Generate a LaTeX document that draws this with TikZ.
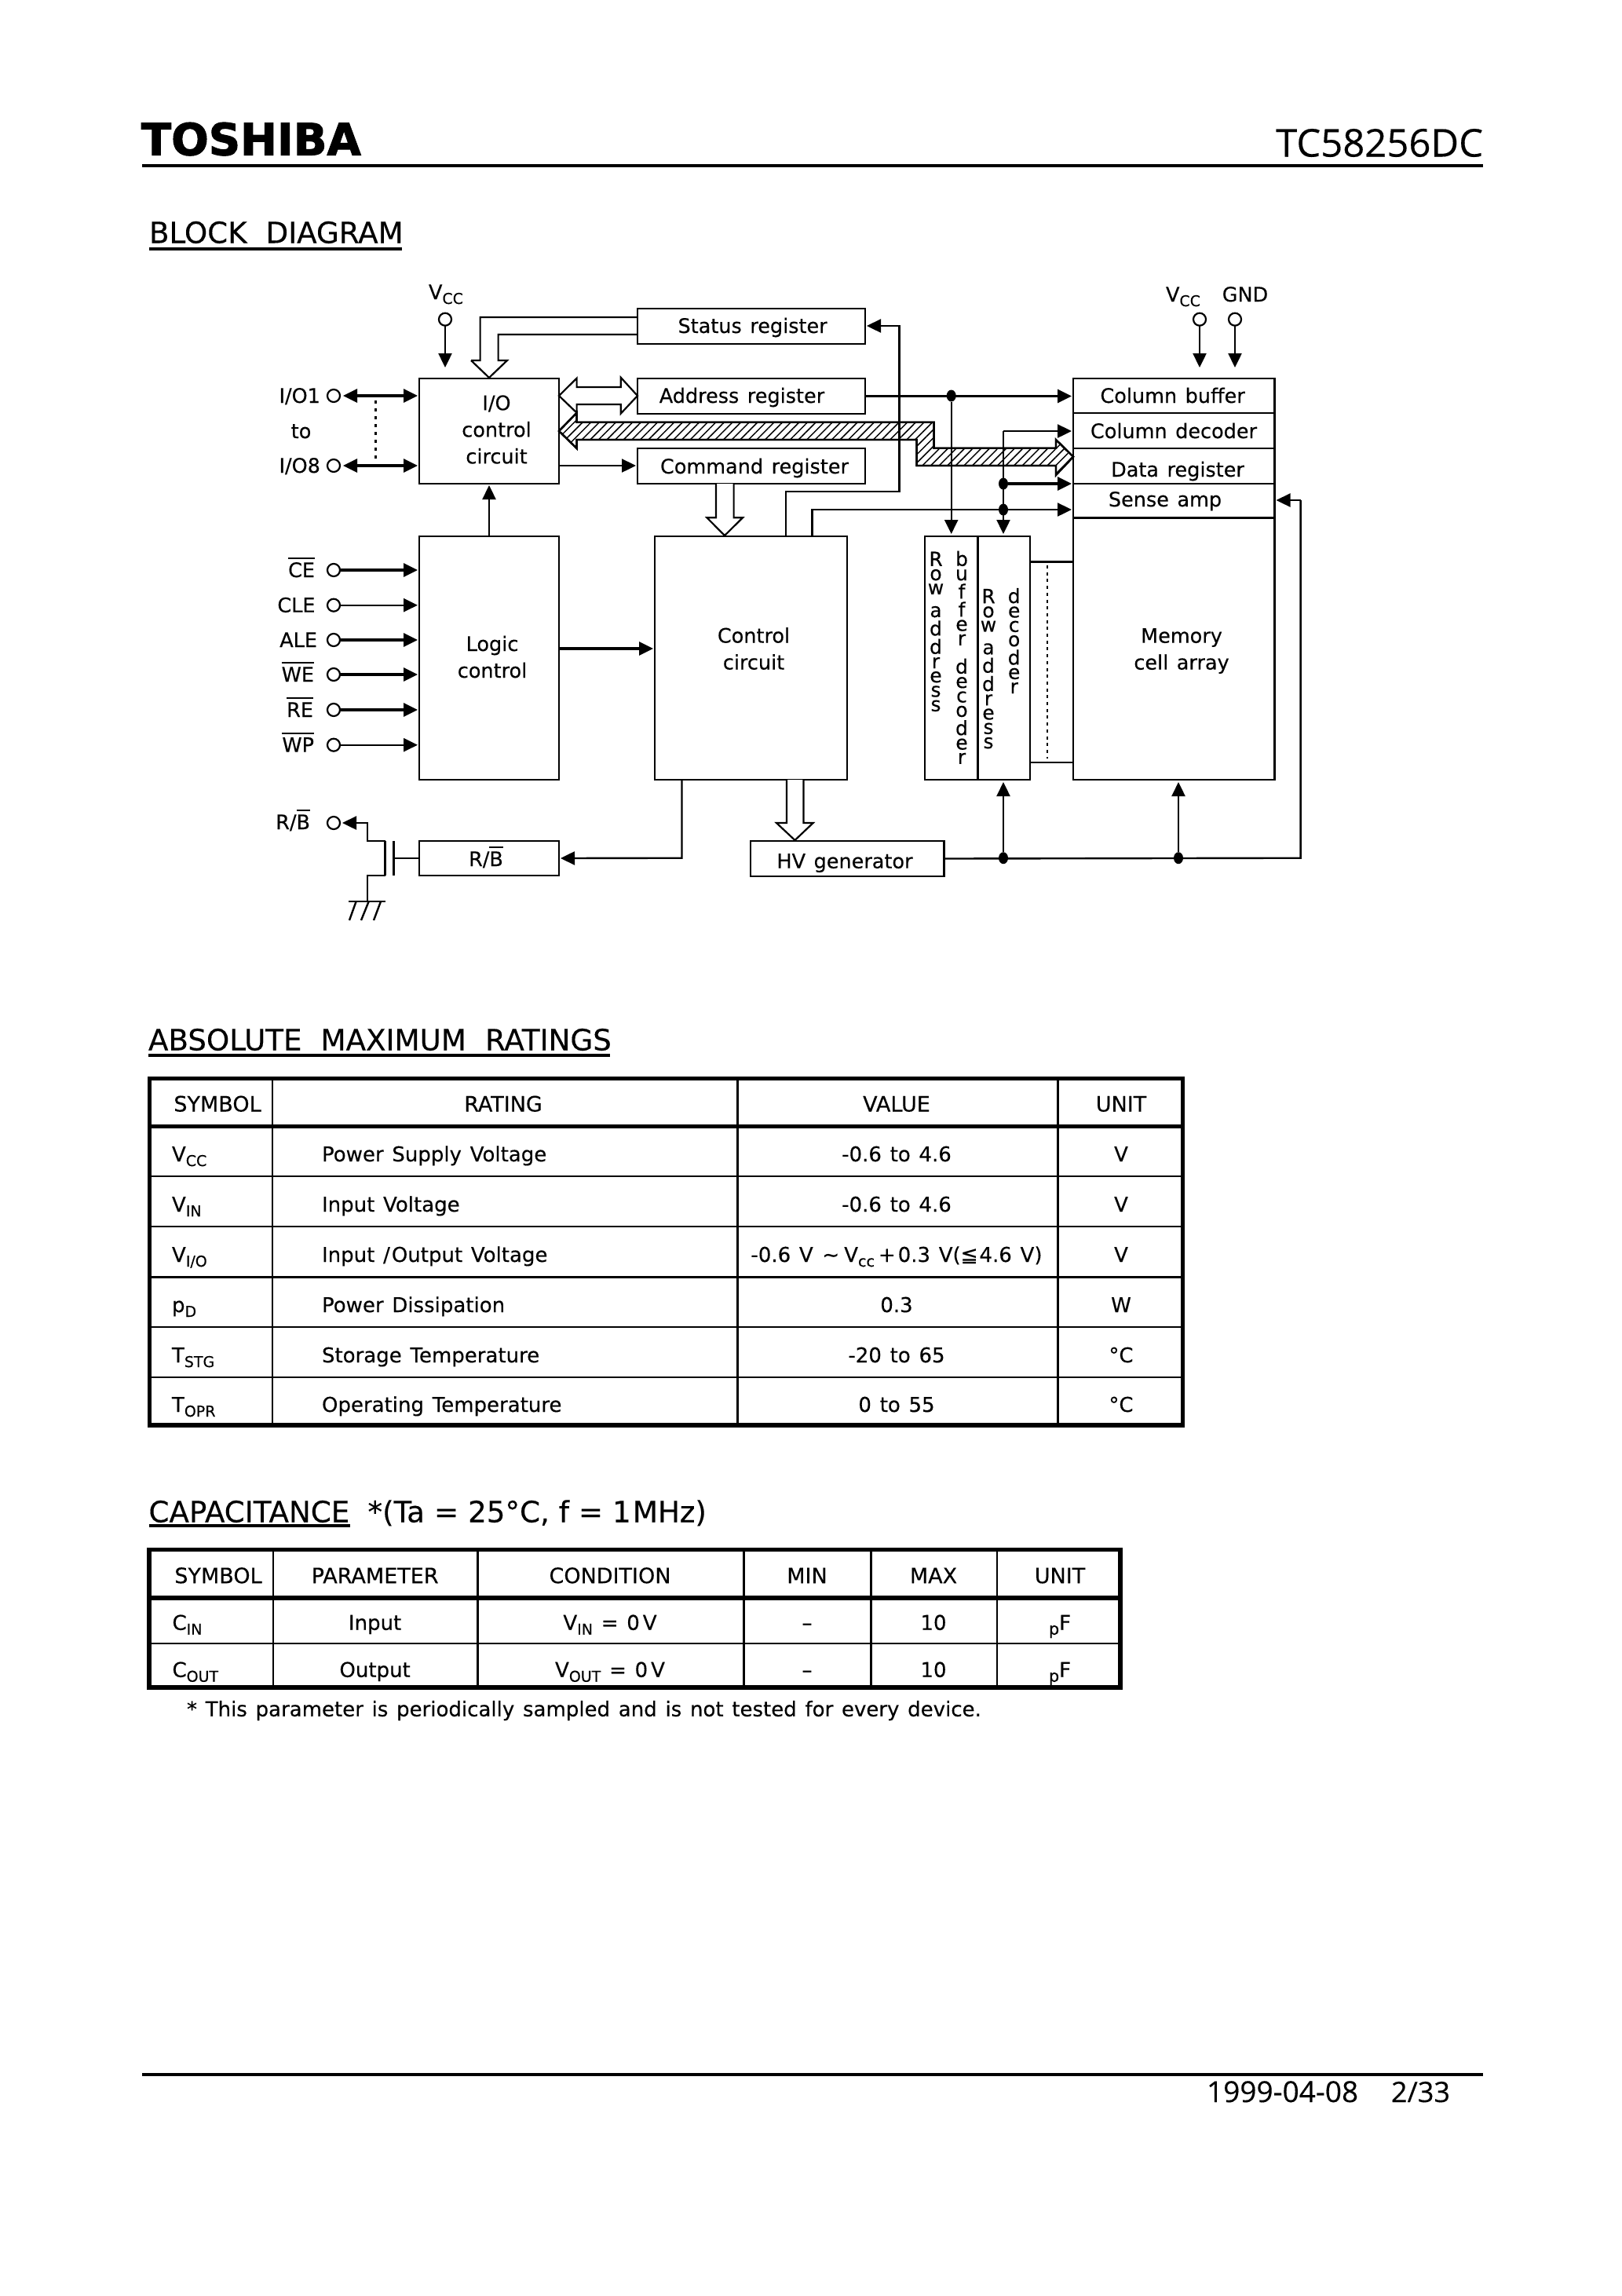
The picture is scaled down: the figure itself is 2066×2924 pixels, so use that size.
\documentclass[tikz,border=0pt]{standalone}
\usepackage{fontspec}
\setmainfont[WordSpace=1.3,FakeBold=0.25]{DejaVu Sans}
\newfontfamily\osans[WordSpace=1.7,FakeBold=0.25]{Open Sans}
\newfontfamily\brandfont[FakeBold=2]{DejaVu Sans Bold}
\usetikzlibrary{arrows.meta,patterns.meta,calc,shapes.geometric}
\newcommand\sbs[1]{\raisebox{-6pt}{\fontsize{19}{19}\selectfont #1}}
\newcommand\ovl[1]{\setbox0=\hbox{#1}\rlap{\rule[23pt]{\wd0}{1.6pt}}\box0}
\newcommand\fs[1]{\fontsize{#1}{#1}\selectfont}
\newcommand\q{\\[1pt]}
\newcommand\hgap{\kern24pt }
\newcommand\cgap{\kern12pt }
\tikzset{
  x=1pt,y=-1pt,
  every node/.style={inner sep=0pt,outer sep=0pt},
  >={Triangle[length=18pt,width=17pt]},
  bx/.style={draw,line width=2.8pt},
  wire/.style={draw,line width=2.4pt},
  twire/.style={draw,line width=3.2pt},
  hollow/.style={draw,line width=2.2pt,fill=white,line join=miter},
  pinc/.style={circle,draw,line width=2.2pt,minimum size=16pt},
  jdot/.style={ellipse,fill=black,minimum width=12pt,minimum height=15pt},
  txt/.style={font=\fs{25.5},text height=18pt,text depth=0pt},
  ttxt/.style={font=\fs{26},text height=18pt,text depth=0pt},
  thd/.style={font=\fs{27},text height=19pt,text depth=0pt},
  mtxt/.style={font=\fontsize{25.5}{34}\selectfont,align=center},
  stk/.style={font=\fs{25},anchor=north},
  head/.style={font=\fs{37.2},text height=27pt,text depth=0pt,anchor=west},
  rule/.style={draw,line width=3.4pt},
  outer/.style={draw,line width=5.4pt},
  thick/.style={draw,line width=2.8pt},
  thin/.style={draw,line width=2.2pt},
}
% box from corner to corner
\newcommand\bxn[5]{\node[bx,minimum width=#4pt-#2pt,minimum height=#5pt-#3pt] (#1) at ({(#2+#4)/2},{(#3+#5)/2}) {};}
\newcommand\trow[6]{%
  \node[ttxt,anchor=west] (#1s) at (219,#2) {#3};
  \node[ttxt,anchor=west] (#1r) at (410,#2) {#4};
  \node[ttxt] (#1v) at (1142,#2) {#5};
  \node[ttxt] (#1u) at (1428,#2) {#6};}
\newcommand\crow[7]{%
  \node[ttxt,anchor=west] (#1s) at (219.5,#2) {#3};
  \node[ttxt] (#1p) at (477.6,#2) {#4};
  \node[ttxt] (#1c) at (777,#2) {#5};
  \node[ttxt] (#1n) at (1028,#2) {#6};
  \node[ttxt] (#1x) at (1189,#2) {#7};
  \node[ttxt] (#1u) at (1350,#2) {\sbs{\fs{21}p}F};}
\begin{document}
\begin{tikzpicture}
\useasboundingbox (0,0) rectangle (2066,2924);
\fill[white] (0,0) rectangle (2066,2924);

% page header
\node[font=\brandfont\fs{56},text height=41pt,text depth=0pt,anchor=west] (brand) at (180,177) {TOSHIBA};
\node[font=\osans\fs{49},text height=35pt,text depth=0pt,anchor=east] (part) at (1889,182) {TC58256DC};
\coordinate (hl) at (181,211); \coordinate (hr) at (1889,211);
\draw[rule] (hl) -- (hr);

\node[head] (hblock) at (190,296) {BLOCK\hgap DIAGRAM};
\draw[rule] (hblock.west |- 0,317) -- (512,317);

% hatched data bus
\draw[line width=2.4pt,fill=white] (712,549) -- (734.6,525.7) -- (734.6,537.7) -- (1189.6,537.7) -- (1189.6,570.7) -- (1345,570.7) -- (1345,560) -- (1367,581.7) -- (1345,605) -- (1345,593) -- (1167.6,593) -- (1167.6,560) -- (734.6,560) -- (734.6,571) -- cycle;
\draw[line width=2.4pt,pattern={Lines[angle=45,distance=7.5pt,line width=1.5pt]}] (712,549) -- (734.6,525.7) -- (734.6,537.7) -- (1189.6,537.7) -- (1189.6,570.7) -- (1345,570.7) -- (1345,560) -- (1367,581.7) -- (1345,605) -- (1345,593) -- (1167.6,593) -- (1167.6,560) -- (734.6,560) -- (734.6,571) -- cycle;

% boxes
\bxn{status}{812}{393}{1102}{438}
\bxn{addr}{812}{482}{1102}{527}
\bxn{cmd}{812}{571}{1102}{616}
\bxn{io}{534}{482}{712}{616}
\bxn{logic}{534}{683}{712}{993}
\bxn{ctrl}{834}{683}{1079}{993}
\bxn{rowbuf}{1178}{683}{1245.7}{993}
\bxn{rowdec}{1245.7}{683}{1312}{993}
\bxn{cbuf}{1367}{482}{1623.5}{526}
\bxn{cdec}{1367}{526}{1623.5}{571}
\bxn{dreg}{1367}{571}{1623.5}{616}
\bxn{samp}{1367}{616}{1623.5}{659.5}
\bxn{mem}{1367}{659.5}{1623.5}{993}
\bxn{rb}{534}{1071}{712}{1115}
\bxn{hv}{956}{1071}{1202.5}{1116}
\draw[line width=3pt] (rowdec.east |- 0,715.5) -- (mem.west |- 0,715.5);
\draw[line width=1.6pt] (rowdec.east |- 0,970.7) -- (mem.west |- 0,970.7);
\draw[line width=2.6pt,dash pattern=on 4pt off 4.7pt] (1334,720) -- (1334,966);

% box text
\node[txt] (tstatus) at (958.6,415) {Status register};
\node[txt] (taddr) at (945,504) {Address register};
\node[txt] (tcmd) at (961,594) {Command register};
\node[mtxt] (tio) at (632.5,547) {I/O\\control\\circuit};
\node[mtxt] (tlogic) at (627,836.5) {Logic\\control};
\node[mtxt] (tctrl) at (960,826) {Control\\circuit};
\node[mtxt] (tmem) at (1505,829) {Memory\\cell array};
\node[txt] (tcbuf) at (1493.6,504) {Column buffer};
\node[txt] (tcdec) at (1495,549) {Column decoder};
\node[txt] (tdreg) at (1500,598) {Data register};
\node[txt] (tsamp) at (1484,636) {Sense amp};
\node[txt] (trb) at (619,1094) {R/\ovl{B}};
\node[txt] (thv) at (1076,1096.7) {HV generator};
\node[stk] (s1) at (1192,702.7) {\shortstack{R\q o\q w\\[12pt]a\q d\q d\q r\q e\q s\q s}};
\node[stk] (s2) at (1225,701.7) {\shortstack{b\q u\q f\q f\q e\q r\\[14pt]d\q e\q c\q o\q d\q e\q r}};
\node[stk] (s3) at (1259,750) {\shortstack{R\q o\q w\\[12pt]a\q d\q d\q r\q e\q s\q s}};
\node[stk] (s4) at (1291.7,749) {\shortstack{d\q e\q c\q o\q d\q e\q r}};

% pins and their labels
\node[pinc] (pvcc) at (567,406.7) {};
\node[pinc] (pvcc2) at (1528,406.7) {};
\node[pinc] (pgnd) at (1573,406.7) {};
\node[pinc] (pio1) at (425,504) {};
\node[pinc] (pio8) at (425,593) {};
\node[pinc] (pce) at (425,726) {};
\node[pinc] (pcle) at (425,770.7) {};
\node[pinc] (pale) at (425,815) {};
\node[pinc] (pwe) at (425,859) {};
\node[pinc] (pre) at (425,904) {};
\node[pinc] (pwp) at (425,948.7) {};
\node[pinc] (prb) at (425,1048) {};
\node[txt] (lvcc) at (568,372) {V\sbs{CC}};
\node[txt] (lvcc2) at (1507,375) {V\sbs{CC}};
\node[txt] (lgnd) at (1586,375) {GND};
\node[txt,anchor=west] (lio1) at (355.5,504) {I/O1};
\node[txt] (lto) at (383.6,549) {to};
\node[txt,anchor=west] (lio8) at (355.5,593) {I/O8};
\node[txt,anchor=east] (lce) at (401,726) {\ovl{CE}};
\node[txt,anchor=east] (lcle) at (401.5,770.7) {CLE};
\node[txt,anchor=east] (lale) at (404,815) {ALE};
\node[txt,anchor=east] (lwe) at (400,859) {\ovl{WE}};
\node[txt,anchor=east] (lre) at (399,904) {\ovl{RE}};
\node[txt,anchor=east] (lwp) at (400,948.7) {\ovl{WP}};
\node[txt,anchor=east] (lrb) at (395,1047) {R/\ovl{B}};

% junctions
\node[jdot] (j1) at (1211.7,504) {};
\node[jdot] (j2) at (1278,616) {};
\node[jdot] (j3) at (1278,649) {};
\node[jdot] (j4) at (1278,1092.7) {};
\node[jdot] (j5) at (1501,1092.7) {};
\coordinate (jc) at (1278,549);
\coordinate (rt) at (1656.6,637);
\coordinate (rb2) at (1656.6,1092.7);
\coordinate (st) at (1145.5,415);
\coordinate (sb) at (1145.5,626);
\coordinate (c1) at (1001,626);
\coordinate (c2) at (1034.5,649);
\coordinate (rc) at (868.5,1092.7);

% connectors
\draw[wire,->,shorten >=14pt] (pvcc) -- (pvcc |- io.north);
\draw[wire,->,shorten >=14pt] (pvcc2) -- (pvcc2 |- cbuf.north);
\draw[wire,->,shorten >=14pt] (pgnd) -- (pgnd |- cbuf.north);
\draw[twire,<->,shorten <=4pt,shorten >=2pt] (pio1) -- (pio1 -| io.west);
\draw[twire,<->,shorten <=4pt,shorten >=2pt] (pio8) -- (pio8 -| io.west);
\draw[line width=2.6pt,dash pattern=on 4pt off 6pt] (478.5,510) -- (478.5,587);
\draw[wire,->,shorten >=2pt] (io.east |- 0,593) -- (cmd.west |- 0,593);
\draw[wire,->,shorten >=2pt] (logic.north -| 623,0) -- (623,616);
\draw[twire,->,shorten >=2pt] (pce) -- (pce -| logic.west);
\draw[wire,->,shorten >=2pt] (pcle) -- (pcle -| logic.west);
\draw[twire,->,shorten >=2pt] (pale) -- (pale -| logic.west);
\draw[twire,->,shorten >=2pt] (pwe) -- (pwe -| logic.west);
\draw[twire,->,shorten >=2pt] (pre) -- (pre -| logic.west);
\draw[wire,->,shorten >=2pt] (pwp) -- (pwp -| logic.west);
\draw[twire,->,shorten >=2pt] (logic.east |- 0,826) -- (ctrl.west |- 0,826);
% control -> status register
\draw[wire,->,shorten >=2pt] (c1 |- ctrl.north) -- (c1) -- (sb) -- (st) -- (st -| status.east);
% control -> sense amp
\draw[wire,->,shorten >=2pt] (c2 |- ctrl.north) -- (c2) -- (c2 -| mem.west);
% address -> column buffer
\draw[twire,->,shorten >=2pt] (addr.east) -- (addr.east -| cbuf.west);
\draw[wire,->,shorten >=3pt] (j1) -- (j1 |- rowbuf.north);
% column and row decoder tap
\draw[wire,->,shorten >=2pt] (jc) -- (jc -| cdec.west);
\draw[wire,->,shorten >=3pt] (jc) -- (jc |- rowdec.north);
\draw[twire,->,shorten >=2pt] (j2) -- (j2 -| dreg.west);
% HV generator
\draw[wire] (hv.east) -- (rb2) -- (rt);
\draw[wire,->,shorten >=2pt] (rt) -- (rt -| samp.east);
\draw[wire,->,shorten >=3pt] (j4) -- (j4 |- rowdec.south);
\draw[wire,->,shorten >=3pt] (j5) -- (j5 |- mem.south);
% control -> R/B
\draw[wire,->,shorten >=2pt] (rc |- ctrl.south) -- (rc) -- (rb.east);
% R/B transistor and ground
\coordinate (ga) at (501,1071); \coordinate (gb) at (501,1115);
\coordinate (ca) at (490.7,1071); \coordinate (cb) at (490.7,1115);
\coordinate (gnd) at (467.8,1148);
\draw[wire] (rb.west) -- (rb.west -| ga);
\draw[line width=3pt] (ga) -- (gb);
\draw[line width=3pt] (ca) -- (cb);
\draw[wire,->,shorten >=3pt] (ca) -- (467.8,1071) -- (467.8,1048) -- (prb);
\draw[wire] (cb) -- (467.8,1115) -- (gnd);
\draw[wire] (444,1148) -- (490.7,1148);
\draw[wire] (453.6,1148) -- (445,1172) (469.7,1148) -- (460,1172) (485,1148) -- (476,1172);

% hollow double-line arrows
\draw[hollow] (600,459) -- (623,481) -- (646,459) -- (634.6,459) -- (634.6,426) -- (status.west |- 0,426) (status.west |- 0,404) -- (611.6,404) -- (611.6,459) -- (600,459);
\draw[hollow] (912,616) -- (912,659.3) -- (900.4,659.3) -- (923,682) -- (946,659.3) -- (934.6,659.3) -- (934.6,616);
\draw[hollow] (1002,993) -- (1002,1048) -- (989,1048) -- (1012.5,1070) -- (1035.7,1048) -- (1023.5,1048) -- (1023.5,993);
\draw[hollow] (712,504) -- (734.6,481.7) -- (734.6,493) -- (790.7,493) -- (790.7,480.7) -- (812,504) -- (790.7,526.7) -- (790.7,515) -- (734.6,515) -- (734.6,525.7) -- cycle;

% ABSOLUTE MAXIMUM RATINGS
\node[head] (habs) at (189,1324) {ABSOLUTE\hgap MAXIMUM\hgap RATINGS};
\draw[rule] (189,1344) -- (777,1344);
\draw[outer] (190.5,1373.7) rectangle (1506.5,1815);
\draw[outer] (190.5,1434.7) -- (1506.5,1434.7);
\draw[thin] (190.5,1498) -- (1506.5,1498);
\draw[thin] (190.5,1562) -- (1506.5,1562);
\draw[thick] (190.5,1626.7) -- (1506.5,1626.7);
\draw[thick] (190.5,1690) -- (1506.5,1690);
\draw[thick] (190.5,1754) -- (1506.5,1754);
\foreach \cx in {347,939.7,1347.8} \draw[thick] (\cx,1373.7) -- (\cx,1815);
\node[thd] (ahs) at (277,1406) {SYMBOL};
\node[thd] (ahr) at (641,1406) {RATING};
\node[thd] (ahv) at (1142,1406) {VALUE};
\node[thd] (ahu) at (1428,1406) {UNIT};
\trow{a}{1470}{V\sbs{CC}}{Power Supply Voltage}{-0.6 to 4.6}{V}
\trow{b}{1534}{V\sbs{IN}}{Input Voltage}{-0.6 to 4.6}{V}
\trow{c}{1598}{V\sbs{I/O}}{Input /\kern2pt Output Voltage}{-0.6 V \kern1pt∼\kern6pt V\sbs{cc}\kern5pt+\kern3pt0.3 V(≦\kern2pt4.6 V)}{V}
\trow{d}{1662}{p\sbs{D}}{Power Dissipation}{0.3}{W}
\trow{e}{1726}{T\sbs{STG}}{Storage Temperature}{-20 to 65}{°C}
\trow{f}{1789}{T\sbs{OPR}}{Operating Temperature}{0 to 55}{°C}

% CAPACITANCE
\node[head] (hcap) at (189.5,1925) {CAPACITANCE};
\draw[rule] (189.5,1943) -- (445.5,1943);
\node[head] (hcond) at (468.5,1925) {*(Ta\cgap=\cgap25°C,\cgap f\cgap=\cgap 1\kern2pt MHz)};
\draw[outer] (190,1973.5) rectangle (1427,2149);
\draw[outer] (190,2035) -- (1427,2035);
\draw[thin] (190,2092.7) -- (1427,2092.7);
\foreach \cx in {348,608.8,947.7,1109.4,1270} \draw[thick] (\cx,1973.5) -- (\cx,2149);
\node[thd] (chs) at (278,2006.7) {SYMBOL};
\node[thd] (chp) at (477.6,2006.7) {PARAMETER};
\node[thd] (chc) at (777,2006.7) {CONDITION};
\node[thd] (chn) at (1028,2006.7) {MIN};
\node[thd] (chx) at (1189,2006.7) {MAX};
\node[thd] (chu) at (1350,2006.7) {UNIT};
\crow{g}{2066.7}{C\sbs{IN}}{Input}{V\sbs{IN} = 0\kern4pt V}{–}{10}
\crow{h}{2126.7}{C\sbs{OUT}}{Output}{V\sbs{OUT} = 0\kern4pt V}{–}{10}
\node[ttxt,anchor=west] (fnote) at (238,2176.7) {* This parameter is periodically sampled and is not tested for every device.};

% footer
\draw[line width=4pt] (181,2642) -- (1889,2642);
\node[font=\osans\fs{37},text height=27pt,text depth=0pt,anchor=west] (fdate) at (1537,2663.5) {1999-04-08};
\node[font=\osans\fs{36},text height=27pt,text depth=0pt,anchor=west] (fpage) at (1772,2663.5) {2/33};
\end{tikzpicture}
\end{document}
